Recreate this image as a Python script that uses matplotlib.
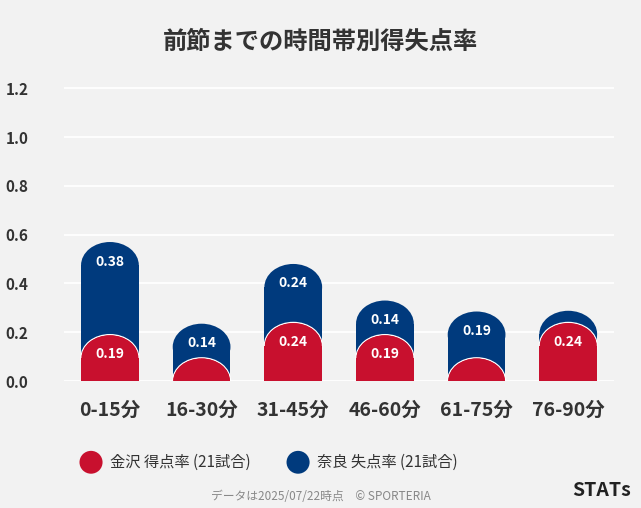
import matplotlib
matplotlib.use("Agg")
import matplotlib.pyplot as plt
from matplotlib.patches import Rectangle, Ellipse

plt.rcParams['font.family'] = ['Noto Sans CJK JP', 'DejaVu Sans']

periods = ['0-15分', '16-30分', '31-45分', '46-60分', '61-75分', '76-90分']
scored = [0.19, 0.095, 0.24, 0.19, 0.095, 0.24]
conceded = [0.38, 0.14, 0.24, 0.14, 0.19, 0.048]
scored_labels = ['0.19', '', '0.24', '0.19', '', '0.24']
conceded_labels = ['0.38', '0.14', '0.24', '0.14', '0.19', '']

RED = '#c8102e'
BLUE = '#003a7d'
BG = '#f2f2f2'

fig = plt.figure(figsize=(6.41, 5.08), dpi=100, facecolor=BG)
ax = fig.add_axes([0.1, 0.25, 0.858, 0.6])
ax.set_facecolor(BG)

w = 0.63
ry = 0.095


def dome_bar(ax, x, h, color, edge=None):
    r = min(ry, h)
    ax.add_patch(Rectangle((x - w / 2, 0), w, h - r, facecolor=color, lw=0, zorder=3))
    ax.add_patch(Ellipse((x, h - r), w, 2 * r, facecolor=color,
                         edgecolor=edge if edge else color, lw=1 if edge else 0, zorder=3))
    if edge:
        ax.add_patch(Rectangle((x - w / 2, 0), w, h - r, facecolor=color, lw=0, zorder=3.5))
        ax.add_patch(Ellipse((x, h - r), w - 0.01, 2 * r - 0.005, facecolor=color, lw=0, zorder=3.5))


for i in range(len(periods)):
    total = scored[i] + conceded[i]
    dome_bar(ax, i, total, BLUE)
    dome_bar(ax, i, scored[i], RED, edge='white')
    if conceded_labels[i]:
        ax.text(i, total - 0.08, conceded_labels[i], color='white', ha='center', va='center',
                fontsize=10, fontweight='bold', zorder=5)
    if scored_labels[i]:
        ax.text(i, scored[i] - 0.08, scored_labels[i], color='white', ha='center', va='center',
                fontsize=10, fontweight='bold', zorder=5)

ax.set_xlim(-0.5, 5.5)
ax.set_ylim(0, 1.25)
ax.set_yticks([0, 0.2, 0.4, 0.6, 0.8, 1.0, 1.2])
ax.set_yticklabels(['0.0', '0.2', '0.4', '0.6', '0.8', '1.0', '1.2'], fontsize=11,
                   fontweight='bold', color='#333333')
ax.set_xticks(range(len(periods)))
ax.set_xticklabels(periods, fontsize=14, fontweight='bold', color='#333333')
ax.tick_params(length=0, axis='x', pad=14)
for lbl in ax.get_yticklabels():
    lbl.set_horizontalalignment('left')
ax.yaxis.set_tick_params(length=0, pad=42)
ax.grid(axis='y', color='white', lw=1.3, zorder=0)
ax.set_axisbelow(True)
for s in ax.spines.values():
    s.set_visible(False)

fig.text(0.5, 0.918, '前節までの時間帯別得失点率', ha='center', va='center',
         fontsize=17.5, fontweight='bold', color='#333333')

fig.patches.append(Ellipse((0.142, 0.09), 0.036, 0.045, transform=fig.transFigure,
                           facecolor=RED, figure=fig))
fig.text(0.172, 0.09, '金沢 得点率 (21試合)', va='center', fontsize=11, color='#333333')
fig.patches.append(Ellipse((0.465, 0.09), 0.036, 0.045, transform=fig.transFigure,
                           facecolor=BLUE, figure=fig))
fig.text(0.495, 0.09, '奈良 失点率 (21試合)', va='center', fontsize=11, color='#333333')

fig.text(0.5, 0.022, 'データは2025/07/22時点　© SPORTERIA', ha='center', va='center',
         fontsize=8.5, color='#888888')
fig.text(0.985, 0.035, 'STATs', ha='right', va='center', fontsize=14,
         fontweight='bold', color='#222222')

fig.savefig('out.png', dpi=100, facecolor=BG)
